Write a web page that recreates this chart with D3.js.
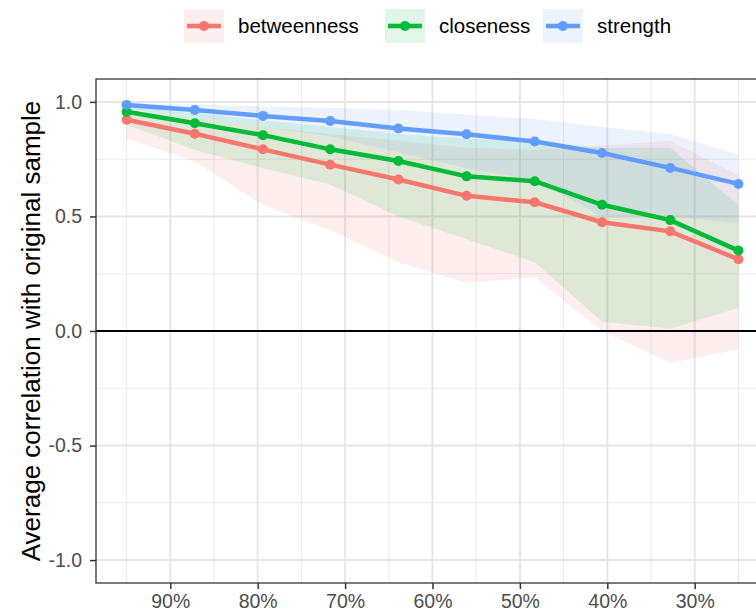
<!DOCTYPE html>
<html lang="en">
<head>
    <meta charset="UTF-8">
    <title>Average correlation with original sample</title>

    <!-- Include D3.js library -->
    <script src="https://d3js.org/d3.v7.min.js" charset="utf-8"></script>

    <style>
        body { margin: 0; background: white; }
        svg { display: block; font-family: "Liberation Sans", Arial, sans-serif; }
    </style>
</head>
<body>
    <div id="chart"></div>

    <script>

    // proportion of cases kept in each subsample
    var sampled = [0.950, 0.872, 0.794, 0.717, 0.639, 0.561, 0.483, 0.406, 0.328, 0.250];

    var measures = ['betweenness', 'closeness', 'strength'];
    var colors = ['#F8766D', '#00BA38', '#619CFF'];

    // mean correlation with the original sample
    var betweennessMean = [0.922, 0.861, 0.793, 0.726, 0.661, 0.590, 0.562, 0.475, 0.435, 0.313];
    var closenessMean   = [0.957, 0.907, 0.855, 0.793, 0.742, 0.675, 0.654, 0.551, 0.484, 0.351];
    var strengthMean    = [0.987, 0.965, 0.939, 0.917, 0.884, 0.859, 0.827, 0.777, 0.712, 0.642];

    // quantile bands
    var betweennessLower = [0.84, 0.74, 0.55, 0.44, 0.30, 0.21, 0.235, 0.00, -0.14, -0.08];
    var betweennessUpper = [0.96, 0.93, 0.89, 0.86, 0.83, 0.80, 0.79, 0.81, 0.83, 0.68];
    var closenessLower   = [0.90, 0.79, 0.71, 0.64, 0.50, 0.40, 0.30, 0.04, 0.01, 0.10];
    var closenessUpper   = [0.98, 0.95, 0.92, 0.89, 0.86, 0.84, 0.83, 0.80, 0.80, 0.55];
    var strengthLower    = [0.97, 0.93, 0.89, 0.85, 0.78, 0.71, 0.66, 0.50, 0.50, 0.47];
    var strengthUpper    = [0.995, 0.99, 0.98, 0.975, 0.965, 0.945, 0.925, 0.89, 0.86, 0.77];

    var xTicks = [0.9, 0.8, 0.7, 0.6, 0.5, 0.4, 0.3];
    var xMinor = [0.95, 0.85, 0.75, 0.65, 0.55, 0.45, 0.35, 0.25];
    var yTicks = [-1, -0.5, 0, 0.5, 1];
    var yMinor = [-0.75, -0.25, 0.25, 0.75];

    var series = [
        {name: measures[0], color: colors[0], mean: betweennessMean, lower: betweennessLower, upper: betweennessUpper},
        {name: measures[1], color: colors[1], mean: closenessMean, lower: closenessLower, upper: closenessUpper},
        {name: measures[2], color: colors[2], mean: strengthMean, lower: strengthLower, upper: strengthUpper}
    ];

    var svgWidth = 756;
    var svgHeight = 611;
    var panel = {left: 96, top: 79, right: 769, bottom: 583};

    var svg = d3.select('#chart')
                .append('svg')
                .attr('width', svgWidth)
                .attr('height', svgHeight);

    // x axis runs from many cases kept to few
    var x = d3.scaleLinear()
        .domain([0.985, 0.215])
        .range([panel.left, panel.right]);

    var y = d3.scaleLinear()
        .domain([-1.1, 1.1])
        .range([panel.bottom, panel.top]);

    // grid lines
    var grid = svg.append('g').attr('class', 'grid');

    grid.selectAll('.vminor')
        .data(xMinor)
        .enter()
        .append('line')
        .attr('x1', d => x(d)).attr('x2', d => x(d))
        .attr('y1', panel.top).attr('y2', panel.bottom)
        .attr('stroke', '#EBEBEB').attr('stroke-width', 1.1);

    grid.selectAll('.hminor')
        .data(yMinor)
        .enter()
        .append('line')
        .attr('x1', panel.left).attr('x2', panel.right)
        .attr('y1', d => y(d)).attr('y2', d => y(d))
        .attr('stroke', '#EBEBEB').attr('stroke-width', 1.1);

    grid.selectAll('.vmajor')
        .data(xTicks)
        .enter()
        .append('line')
        .attr('x1', d => x(d)).attr('x2', d => x(d))
        .attr('y1', panel.top).attr('y2', panel.bottom)
        .attr('stroke', '#E6E6E6').attr('stroke-width', 2);

    grid.selectAll('.hmajor')
        .data(yTicks)
        .enter()
        .append('line')
        .attr('x1', panel.left).attr('x2', panel.right)
        .attr('y1', d => y(d)).attr('y2', d => y(d))
        .attr('stroke', '#E6E6E6').attr('stroke-width', 2);

    // ribbons
    var area = d3.area()
        .x((d, i) => x(sampled[i]))
        .y0(d => y(d[0]))
        .y1(d => y(d[1]));

    svg.append('g').selectAll('path')
        .data(series)
        .enter()
        .append('path')
        .attr('d', s => area(s.lower.map((v, i) => [v, s.upper[i]])))
        .attr('fill', s => s.color)
        .attr('fill-opacity', 0.12);

    // zero line
    svg.append('line')
        .attr('x1', panel.left).attr('x2', panel.right)
        .attr('y1', y(0)).attr('y2', y(0))
        .attr('stroke', 'black').attr('stroke-width', 1.8);

    // mean lines and points
    var line = d3.line()
        .x((d, i) => x(sampled[i]))
        .y(d => y(d));

    var groups = svg.append('g').selectAll('g')
        .data(series)
        .enter()
        .append('g');

    groups.append('path')
        .attr('d', s => line(s.mean))
        .attr('fill', 'none')
        .attr('stroke', s => s.color)
        .attr('stroke-width', 4.5);

    groups.selectAll('circle')
        .data(s => s.mean.map((v, i) => ({v: v, p: sampled[i], color: s.color})))
        .enter()
        .append('circle')
        .attr('cx', d => x(d.p))
        .attr('cy', d => y(d.v))
        .attr('r', 5)
        .attr('fill', d => d.color);

    // panel border
    svg.append('rect')
        .attr('x', panel.left).attr('y', panel.top)
        .attr('width', panel.right - panel.left)
        .attr('height', panel.bottom - panel.top)
        .attr('fill', 'none')
        .attr('stroke', '#333333')
        .attr('stroke-width', 1.3);

    // axes
    var xAxis = svg.append('g')
        .attr('transform', 'translate(0,' + panel.bottom + ')')
        .call(d3.axisBottom(x).tickValues(xTicks).tickFormat(d3.format('.0%')).tickSize(6));

    var yAxis = svg.append('g')
        .attr('transform', 'translate(' + panel.left + ',0)')
        .call(d3.axisLeft(y).tickValues(yTicks).tickFormat(d => d.toFixed(1)).tickSize(6));

    [xAxis, yAxis].forEach(function(a) {
        a.select('.domain').remove();
        a.selectAll('line').attr('stroke', '#333333').attr('stroke-width', 1.5);
        a.selectAll('text')
            .attr('fill', '#4D4D4D')
            .style('font-size', '19.5px');
    });

    xAxis.selectAll('text').attr('y', 11);
    yAxis.selectAll('text').attr('x', -14);

    // y axis title
    svg.append('text')
        .attr('transform', 'translate(40,' + ((panel.top + panel.bottom) / 2) + ') rotate(-90)')
        .attr('text-anchor', 'middle')
        .style('font-size', '26px')
        .attr('fill', 'black')
        .text('Average correlation with original sample');

    // legend at the top
    var legendX = [184, 385, 543];

    var legend = svg.append('g').selectAll('g')
        .data(series)
        .enter()
        .append('g')
        .attr('transform', (s, i) => 'translate(' + legendX[i] + ',9)');

    legend.append('rect')
        .attr('width', 40).attr('height', 34)
        .attr('fill', s => s.color)
        .attr('fill-opacity', 0.12);

    legend.append('line')
        .attr('x1', 3).attr('x2', 37)
        .attr('y1', 17).attr('y2', 17)
        .attr('stroke', s => s.color)
        .attr('stroke-width', 4.5);

    legend.append('circle')
        .attr('cx', 20).attr('cy', 17).attr('r', 5)
        .attr('fill', s => s.color);

    legend.append('text')
        .attr('x', 54)
        .attr('y', 24)
        .style('font-size', '20.5px')
        .attr('fill', 'black')
        .text(s => s.name);

    </script>
</body>
</html>
